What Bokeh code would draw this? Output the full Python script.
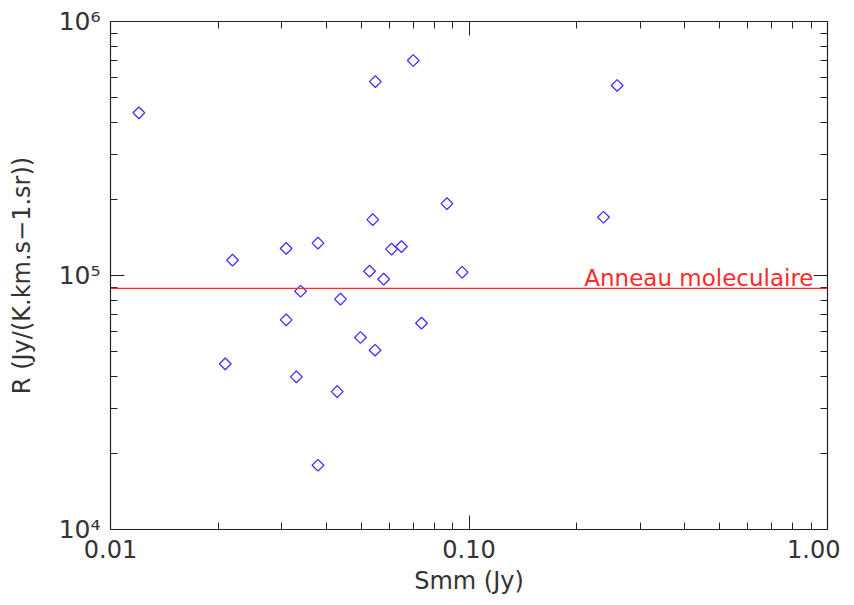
import numpy as np
from bokeh.plotting import figure
from bokeh.models import (LogAxis, FixedTicker, CustomJSTickFormatter, Span, Label,
                          ColumnDataSource, Range1d)
from bokeh.embed import file_html
from bokeh.resources import INLINE

# ---- data ----
smm = [0.0120, 0.0219, 0.0309, 0.0379, 0.0539, 0.0868, 0.0608, 0.0648, 0.0528,
       0.0578, 0.0957, 0.0339, 0.0438, 0.0309, 0.0737, 0.0498, 0.0547, 0.0209,
       0.0330, 0.0429, 0.0379, 0.2372, 0.2590, 0.0699, 0.0548]
ratio = [437000, 114900, 127800, 134100, 166000, 191800, 127000, 130000, 104000,
         96700, 103000, 86700, 80700, 66900, 64900, 57000, 50800, 44900,
         39900, 34900, 17900, 169600, 560000, 702000, 580000]
ring_value = 89000
ring_label = "Anneau moleculaire"
x_major = [0.01, 0.1, 1.0]
x_minor = [0.02, 0.03, 0.04, 0.05, 0.06, 0.07, 0.08, 0.09,
           0.2, 0.3, 0.4, 0.5, 0.6, 0.7, 0.8, 0.9]
y_major = [1e4, 1e5, 1e6]
y_minor = [2e4, 3e4, 4e4, 5e4, 6e4, 7e4, 8e4, 9e4,
           2e5, 3e5, 4e5, 5e5, 6e5, 7e5, 8e5, 9e5]
x_title = "Smm (Jy)"
y_title = "R (Jy/(K.km.s\u22121.sr))"

FONT = "DejaVu Sans"
TXT = "#333333"
AX = "#222222"

p = figure(width=840, height=600, x_axis_type="log", y_axis_type="log",
           x_range=Range1d(0.01, 1.0), y_range=Range1d(1e4, 1e6),
           output_backend="svg", toolbar_location=None,
           min_border_left=110, min_border_right=13, min_border_top=21,
           min_border_bottom=71)
p.grid.visible = False
p.outline_line_color = None
p.background_fill_color = "white"
p.border_fill_color = "white"

xfmt = CustomJSTickFormatter(code="return tick.toFixed(2);")
yfmt = CustomJSTickFormatter(code="""
const sup = {'4':'\u2074','5':'\u2075','6':'\u2076'};
const e = Math.round(Math.log10(tick)).toString();
return '10' + (sup[e] || e);
""")
blank = CustomJSTickFormatter(code="return '';")

def style(ax):
    ax.axis_line_color = AX
    ax.axis_line_width = 1.2
    ax.major_tick_line_color = AX
    ax.minor_tick_line_color = AX
    ax.major_tick_in = 14
    ax.major_tick_out = 0
    ax.minor_tick_in = 7
    ax.minor_tick_out = 0

xa = p.xaxis[0]
xa.ticker = FixedTicker(ticks=x_major, minor_ticks=x_minor)
xa.formatter = xfmt
style(xa)
xa.major_label_text_font = FONT
xa.major_label_text_font_size = "24px"
xa.major_label_text_color = TXT
xa.major_label_standoff = 10
xa.axis_label = x_title
xa.axis_label_text_font = FONT
xa.axis_label_text_font_size = "24px"
xa.axis_label_text_font_style = "normal"
xa.axis_label_text_color = TXT
xa.axis_label_standoff = 6

ya = p.yaxis[0]
ya.ticker = FixedTicker(ticks=y_major, minor_ticks=y_minor)
ya.formatter = yfmt
style(ya)
ya.major_label_text_font = FONT
ya.major_label_text_font_size = "25px"
ya.major_label_text_color = TXT
ya.major_label_standoff = 10
ya.axis_label = y_title
ya.axis_label_text_font = FONT
ya.axis_label_text_font_size = "24px"
ya.axis_label_text_font_style = "normal"
ya.axis_label_text_color = TXT
ya.axis_label_standoff = 20

top = LogAxis(ticker=FixedTicker(ticks=x_major, minor_ticks=x_minor), formatter=blank,
              major_label_standoff=0, major_label_text_font_size="1px")
style(top)
p.add_layout(top, "above")
right = LogAxis(ticker=FixedTicker(ticks=y_major, minor_ticks=y_minor), formatter=blank,
                major_label_standoff=0, major_label_text_font_size="1px")
style(right)
p.add_layout(right, "right")

src = ColumnDataSource(dict(x=smm, y=ratio))
p.scatter("x", "y", source=src, marker="square", size=8.3, angle=np.pi / 4,
          fill_color=None, line_color="#4a2cff", line_width=1.3)

p.add_layout(Span(location=ring_value, dimension="width", line_color="#ff2a2a",
                  line_width=1.2))
p.add_layout(Label(x=x_major[-1], y=ring_value, text=ring_label, x_offset=-14,
                   y_offset=10, text_align="right", text_baseline="alphabetic",
                   text_font=FONT, text_font_size="23px", text_color="#ff2a2a"))

open("out.html", "w").write(file_html(p, INLINE))
